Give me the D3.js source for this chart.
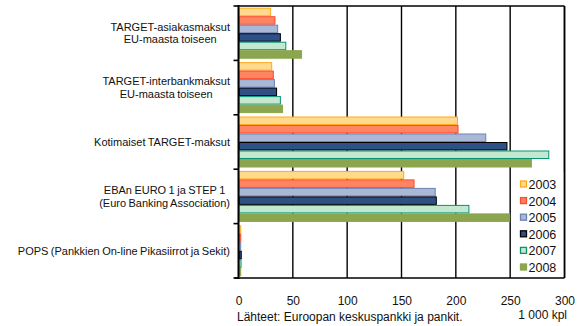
<!DOCTYPE html>
<html><head><meta charset="utf-8">
<script src="https://cdn.jsdelivr.net/npm/d3@7"></script>
<style>
body{margin:0;background:#fff;}
svg{font-family:"Liberation Sans",Arial,sans-serif;}
</style></head>
<body><svg id="c" width="581" height="326"></svg>
<script>
const categories = [
  ["TARGET-asiakasmaksut","EU-maasta toiseen"],
  ["TARGET-interbankmaksut","EU-maasta toiseen"],
  ["Kotimaiset TARGET-maksut"],
  ["EBAn EURO 1 ja STEP 1","(Euro Banking Association)"],
  ["POPS (Pankkien On-line Pikasiirrot ja Sekit)"]
];
const years = ["2003","2004","2005","2006","2007","2008"];
const v2003 = [30, 31, 202, 152.5, 2.5];
const v2004 = [34, 32.5, 202.5, 162, 2.5];
const v2005 = [36.5, 33.5, 228, 181.5, 2.5];
const v2006 = [39, 35.5, 247.5, 182.5, 3];
const v2007 = [44, 39, 286, 212.5, 2.8];
const v2008 = [58.5, 41, 270, 250, 2.5];
const series = [v2003, v2004, v2005, v2006, v2007, v2008];
const xTicks = [0, 50, 100, 150, 200, 250, 300];
const fills   = ["#FFD98C","#FF8464","#A9B8D6","#2F4F87","#C3E8D0","#8BA64E"];
const strokes = ["#FFAA1E","#FF4B28","#6E82B0","#000000","#0A9373","#8BA64E"];

const svg = d3.select("#c");
const L = 238.5, R = 564.5, T = 6, B = 278;
const x = d3.scaleLinear().domain([0,300]).range([L,R]);
const catIdx = categories.map((d,i)=>i);
const y = d3.scaleBand().domain(catIdx).range([T,B]).padding(0);
const yi = d3.scaleBand().domain(years).range([0,y.bandwidth()]).paddingInner(0).paddingOuter(0.2);

// gridlines
svg.append("g").selectAll("line").data(xTicks.filter(t=>t>0)).join("line")
  .attr("x1",d=>x(d)).attr("x2",d=>x(d)).attr("y1",T).attr("y2",B)
  .attr("stroke","#000").attr("stroke-width",1.4);
svg.append("line").attr("x1",L).attr("x2",R).attr("y1",T).attr("y2",T)
  .attr("stroke","#000").attr("stroke-width",1.4);

// bars
const g = svg.append("g");
series.forEach((vals,si)=>{
  g.append("g").selectAll("rect").data(vals).join("rect")
    .attr("x",x(0)+0.5)
    .attr("y",(d,i)=>y(i)+yi(years[si])+0.5)
    .attr("width",d=>Math.max(0,x(d)-x(0)-1))
    .attr("height",yi.bandwidth()-1)
    .attr("fill",fills[si]).attr("stroke",strokes[si]).attr("stroke-width",1);
});

// legend background
svg.append("rect").attr("x",511.5).attr("y",172).attr("width",52).attr("height",105).attr("fill","#fff");
const leg = svg.append("g");
years.forEach((yr,i)=>{
  const cy = 184.5 + i*16.6;
  leg.append("rect").attr("x",520.5).attr("y",cy-3.5).attr("width",6).attr("height",6)
    .attr("fill",fills[i]).attr("stroke",strokes[i]).attr("stroke-width",1.3);
  leg.append("text").attr("x",528.5).attr("y",cy+4.5).attr("font-size",12.5).attr("fill","#111").text(yr);
});

// left axis
svg.append("line").attr("x1",L).attr("x2",L).attr("y1",T-1).attr("y2",B+1).attr("stroke","#000").attr("stroke-width",2);
svg.append("g").selectAll("line").data(d3.range(categories.length+1)).join("line")
  .attr("x1",L-5).attr("x2",L).attr("y1",d=>T+d*y.step()).attr("y2",d=>T+d*y.step())
  .attr("stroke","#000").attr("stroke-width",1.6);
// bottom axis
svg.append("line").attr("x1",L-4).attr("x2",R).attr("y1",B).attr("y2",B).attr("stroke","#000").attr("stroke-width",1.6);
// right border
svg.append("line").attr("x1",R).attr("x2",R).attr("y1",T).attr("y2",B).attr("stroke","#000").attr("stroke-width",1.6);

// x tick labels
const xAxis = d3.axisBottom(x).tickValues(xTicks).tickSize(0).tickPadding(0);
const xa = svg.append("g").attr("transform",`translate(0,${B+18})`).call(xAxis);
xa.select(".domain").remove();
xa.selectAll("text").attr("font-size",12).attr("font-family","Liberation Sans, Arial, sans-serif").attr("fill","#111");

// category labels
categories.forEach((lines,i)=>{
  const cy = y(i)+y.bandwidth()/2;
  const t = svg.append("text").attr("font-size",11).attr("fill","#111").attr("text-anchor","middle")
    .attr("word-spacing",-0.6);
  const spans = lines.map((ln,k)=>t.append("tspan").text(ln));
  let maxW = 0;
  spans.forEach(s=>{maxW=Math.max(maxW,s.node().getComputedTextLength());});
  const cx = 230 - maxW/2;
  const n = lines.length;
  spans.forEach((s,k)=>{
    s.attr("x",cx).attr("y",cy + (k-(n-1)/2)*12.5 + 4);
  });
});

// footer
svg.append("text").attr("x",237).attr("y",321).attr("font-size",12).attr("fill","#111")
  .text("Lähteet: Euroopan keskuspankki ja pankit.");
svg.append("text").attr("x",567).attr("y",318.5).attr("font-size",12).attr("fill","#111").attr("text-anchor","end")
  .text("1 000 kpl");
</script></body></html>
